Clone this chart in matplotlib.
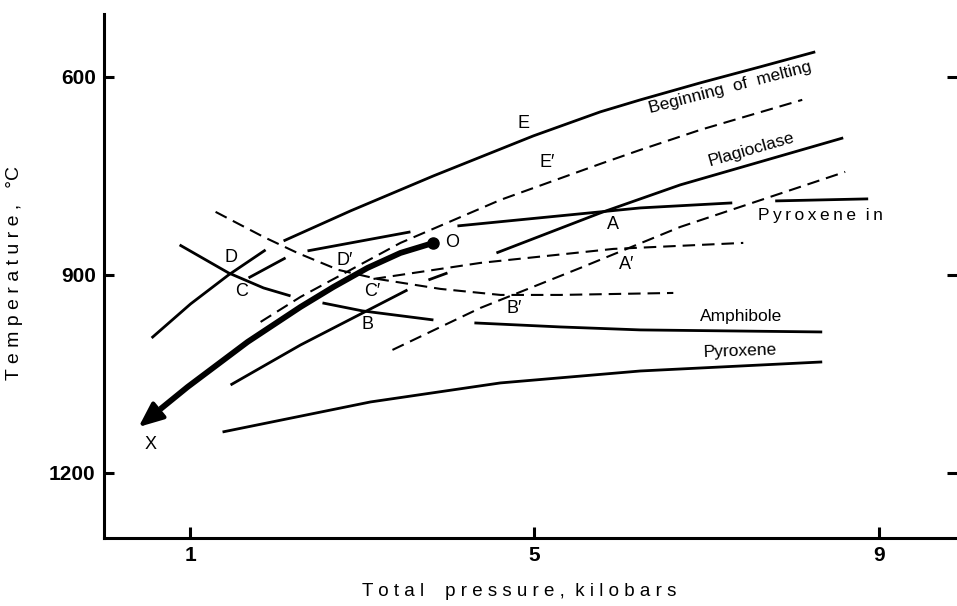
#!/usr/bin/env python3

"""Melting relations vs total pressure: redraw of the P-T diagram"""

import numpy as np
import matplotlib
matplotlib.use("Agg")
import matplotlib.pyplot as plt

nan = np.nan

# Beginning of melting, solid (E) and dashed (E')
E_P = [0.553, 1.006, 1.447, 1.877, nan, 2.086, 2.864, 3.827, 4.988, 5.766, 6.231, 6.927, 7.624, 8.263]
E_T = [995.5, 943.9, 900.0, 862.1, nan, 848.5, 803.0, 750.0, 689.4, 653.0, 634.8, 609.1, 584.8, 562.1]
E2_P = [1.819, 2.283, 3.444, 4.605, 5.766, 6.231, 6.927, 8.112]
E2_T = [971.2, 933.3, 851.5, 786.4, 731.8, 710.6, 680.3, 634.8]

# Plagioclase, solid and dashed
PL_P = [1.470, 2.283, 3.525, nan, 3.769, 3.990, nan, 4.559, 5.766, 6.695, 8.588]
PL_T = [1066.7, 1006.1, 922.7, nan, 907.6, 897.0, nan, 866.7, 806.1, 763.6, 692.4]
PL2_P = [3.351, 4.373, 5.534, 6.695, 8.611]
PL2_T = [1013.6, 950.0, 889.4, 827.3, 743.9]

# Pyroxene in, solid and dashed
PI_P = [1.679, 2.109, nan, 2.364, 3.560, nan, 4.106, 6.231, 7.299, nan, 7.798, 8.878]
PI_T = [904.5, 874.2, nan, 863.6, 834.8, nan, 825.8, 798.5, 790.9, nan, 787.9, 784.8]
PI2_P = [3.131, 4.373, 5.917, 7.427]
PI2_T = [906.1, 881.8, 860.6, 851.5]

# Amphibole, solid and dashed
AM_P = [0.878, 1.447, 1.853, 2.167, nan, 2.538, 3.003, 3.827, nan, 4.303, 5.302, 6.231, 8.344]
AM_T = [854.5, 897.0, 919.7, 931.8, nan, 942.4, 954.5, 968.2, nan, 972.7, 978.8, 983.3, 986.4]
AM2_P = [1.296, 1.853, 2.248, 2.724, 3.177, 3.909, 4.605, 5.302, 6.614]
AM2_T = [804.5, 842.4, 866.7, 892.4, 906.1, 921.2, 930.3, 930.3, 927.3]

# Pyroxene
PX_P = [1.377, 3.096, 4.605, 6.231, 8.344]
PX_T = [1137.9, 1092.4, 1063.6, 1045.5, 1031.8]

# Path O -> X
OX_P = [3.827, 3.444, 3.061, 2.666, 2.283, 1.668, 0.971, 0.657, 0.402]
OX_T = [851.5, 866.7, 889.4, 918.2, 948.5, 1001.5, 1069.7, 1103.0, 1130.3]

# point labels
PT_NAMES = ["E", "E\u2032", "D", "C", "D\u2032", "C\u2032", "B", "B\u2032", "A", "A\u2032", "O", "X"]
PT_P = [4.872, 5.151, 1.470, 1.598, 2.794, 3.119, 3.061, 4.768, 5.917, 6.068, 4.048, 0.541]
PT_T = [671.2, 730.3, 874.2, 925.8, 878.8, 925.8, 975.8, 951.5, 824.2, 884.8, 851.5, 1157.6]

# curve names
TS = "\u2009"
CV_NAMES = ["Beginning  of  melting", "Plagioclase", TS.join("Pyroxene") + "  " + TS.join("in"),
            "Amphibole", "Pyroxene"]
CV_P = [7.276, 7.52, 8.32, 7.404, 7.39]
CV_T = [616.7, 710.6, 810.6, 963.6, 1015.0]
CV_ROT = [14.6, 16.0, 0.0, 0.0, 2.0]

X_TICKS = [1, 5, 9]
Y_TICKS = [600, 900, 1200]

plt.rcParams['font.family'] = ['Liberation Sans', 'DejaVu Sans']
plt.rcParams['lines.scale_dashes'] = False

fig = plt.figure(figsize=(9.57, 6.06), dpi=100)
ax = fig.add_axes([0.1087, 0.1122, 0.8913, 0.865])
ax.set_xlim(0, 9.91)
ax.set_ylim(1298.5, 504.5)

solid = dict(color='k', lw=2.0, solid_capstyle='butt')
dashed = dict(color='k', lw=1.5, linestyle=(0, (9, 5)), dash_capstyle='butt')

ax.plot(E_P, E_T, **solid)
ax.plot(E2_P, E2_T, **dashed)
ax.plot(PL_P, PL_T, **solid)
ax.plot(PL2_P, PL2_T, **dashed)
ax.plot(PI_P, PI_T, **solid)
ax.plot(PI2_P, PI2_T, **dashed)
ax.plot(AM_P, AM_T, **solid)
ax.plot(AM2_P, AM2_T, **dashed)
ax.plot(PX_P, PX_T, **solid)

# thick path with arrow head at X
ax.plot(OX_P[:-1], OX_T[:-1], color='k', lw=4.2, solid_capstyle='butt', solid_joinstyle='round')
ax.annotate('', xy=(OX_P[-1], OX_T[-1]), xytext=(OX_P[-2], OX_T[-2]),
            arrowprops=dict(arrowstyle='-|>,head_length=0.75,head_width=0.32',
                            color='k', lw=3, shrinkA=0, shrinkB=0, mutation_scale=20))
ax.plot(OX_P[0], OX_T[0], 'o', color='k', ms=8)

for name, p, t in zip(PT_NAMES, PT_P, PT_T):
    ax.text(p, t, name, fontsize=13, ha='center', va='center')

for name, p, t, r in zip(CV_NAMES, CV_P, CV_T, CV_ROT):
    ax.text(p, t, name, fontsize=12.5, ha='center', va='center',
            rotation=r, rotation_mode='anchor')

# axes frame
for side in ['top', 'right']:
    ax.spines[side].set_visible(False)
for side in ['left', 'bottom']:
    ax.spines[side].set_linewidth(2.2)
ax.set_xticks(X_TICKS)
ax.set_yticks(Y_TICKS)
ax.tick_params(axis='both', direction='in', width=2.2, labelsize=15, pad=6)
ax.tick_params(axis='y', length=7, right=True)
ax.tick_params(axis='x', length=8)
for lab in ax.get_xticklabels() + ax.get_yticklabels():
    lab.set_fontweight('bold')

fig.text(519 / 957, 1 - 592 / 606, "T o t a l    p r e s s u r e ,  k i l o b a r s",
         fontsize=13.5, ha='center', va='center')
fig.text(15 / 957, 1 - 273 / 606, "T e m p e r a t u r e ,   \u00b0C",
         fontsize=14, ha='center', va='center', rotation=90)

fig.savefig("out.png", dpi=100)
